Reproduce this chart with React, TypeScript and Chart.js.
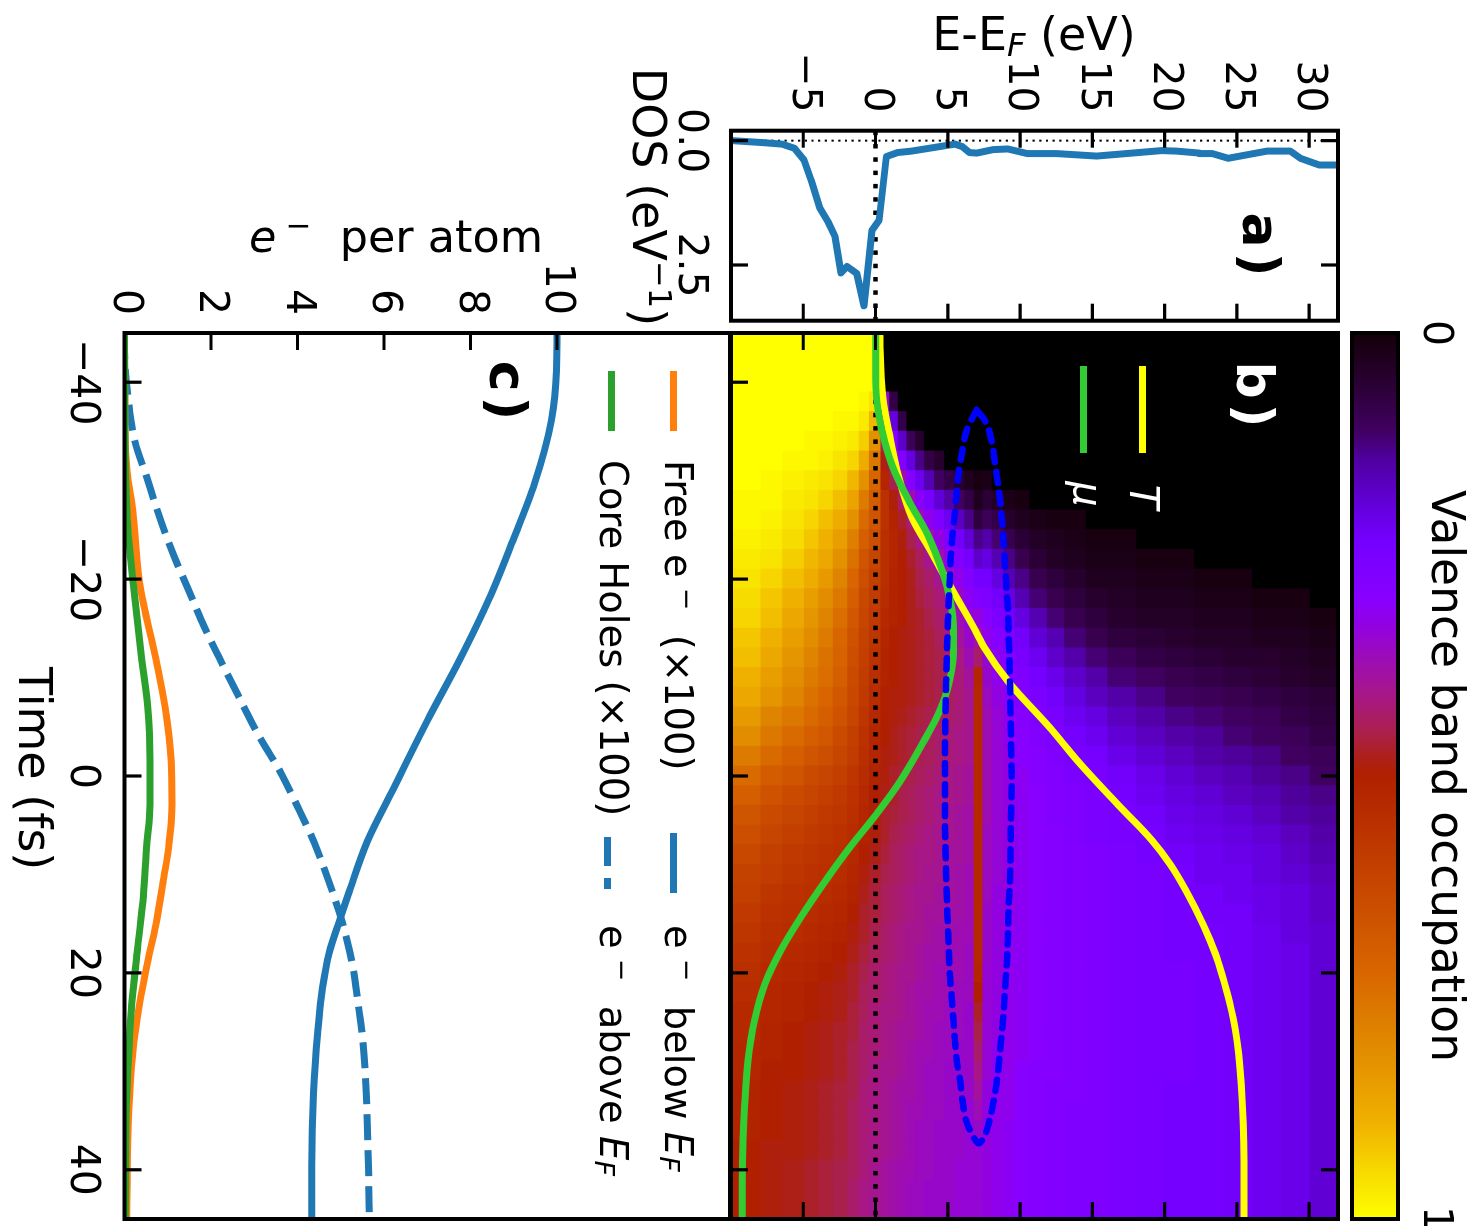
import React, { useEffect, useRef } from "react";
import { Chart, registerables } from "chart.js";

Chart.register(...registerables);
Chart.defaults.font.family = "'DejaVu Sans'";
Chart.defaults.color = "#000";

const FONT = "'DejaVu Sans'";
const TICK_SIZE = 41;

// ---- data ----
const energyTicks = [-5, 0, 5, 10, 15, 20, 25, 30];
const timeTicks = [-40, -20, 0, 20, 40];
const dosTicks = [0, 2.5];
const perAtomTicks = [0, 2, 4, 6, 8, 10];

const dosEnergy = [-9.93, -7.78, -6.47, -5.6, -4.95, -4.46, -3.85, -3.29, -2.8, -2.39, -1.97, -1.3, -0.8, -0.24, 0.25, 0.75, 1.52, 2.51, 5.5, 6.0, 6.5, 7.0, 8.15, 9.15, 10.5, 12.5, 15.3, 19.8, 20.8, 22.4, 23.3, 24.4, 27.1, 28.7, 29.4, 30.7, 32];
const dosValue = [0, 0.04, 0.07, 0.155, 0.39, 0.79, 1.36, 1.63, 1.93, 2.66, 2.53, 2.67, 3.32, 1.8, 1.6, 0.32, 0.24, 0.21, 0.07, 0.12, 0.24, 0.25, 0.18, 0.167, 0.26, 0.26, 0.31, 0.2, 0.21, 0.25, 0.26, 0.355, 0.21, 0.21, 0.355, 0.49, 0.49];

const tempTime = [-45, -43.6, -38.5, -34.4, -30.4, -26.3, -22.9, -19.2, -14.8, -13.1, -9.55, -4.85, -1.5, 2.64, 6.5, 9, 11.7, 15.2, 18, 20.3, 23, 25.8, 31.3, 39.2, 45];
const tempValue = [0.3, 0.31, 0.5, 1.0, 1.6, 2.5, 3.8, 5.2, 6.9, 7.5, 9.2, 12.1, 14.0, 16.6, 19.1, 20.4, 21.5, 22.7, 23.5, 24, 24.5, 24.9, 25.3, 25.5, 25.5];

const muTime = [-45, -40.2, -36.9, -33.8, -30.8, -27.7, -24.7, -21.9, -19.2, -16.5, -14.8, -12.5, -8.7, -6, -3.3, -1, 1, 4, 7.2, 10.3, 14.3, 17.7, 21.1, 24.8, 28.9, 33.6, 38.3, 45];
const muValue = [0.01, 0.01, 0.2, 0.66, 1.35, 2.4, 3.55, 4.35, 4.95, 5.33, 5.4, 5.4, 4.95, 4.25, 3.25, 2.35, 1.5, 0, -1.75, -3.3, -5.15, -6.55, -7.65, -8.37, -8.83, -9.06, -9.18, -9.23];

const loopTime = [-37.2, -35.1, -32.9, -30.9, -28.7, -26.6, -24.5, -22.3, -20.2, -18.2, -16.0, -13.8, -9.4, -3.1, 1.1, 5.3, 9.8, 14.0, 16.0, 20.3, 22.5, 24.6, 28.9, 30.9, 33.1, 35.2, 37.3, 36.5, 34.4, 32.2, 30.2, 28.0, 25.9, 23.8, 21.7, 19.5, 17.4, 15.3, 13.1, 10.9, 4.5, 0.4, -4.0, -8.2, -12.5, -14.6, -16.5, -18.9, -21.1, -23.3, -25.3, -27.5, -29.5, -31.8, -33.8, -35.8, -37.2];
const loopEnergy = [7.0, 6.3, 5.99, 5.76, 5.6, 5.48, 5.33, 5.21, 5.15, 5.08, 5.02, 4.97, 4.88, 4.81, 4.81, 4.81, 4.88, 4.97, 5.03, 5.15, 5.27, 5.38, 5.62, 5.85, 6.03, 6.31, 7.1, 7.57, 7.98, 8.27, 8.46, 8.61, 8.75, 8.87, 8.96, 9.07, 9.14, 9.18, 9.21, 9.3, 9.37, 9.42, 9.37, 9.32, 9.25, 9.21, 9.18, 9.07, 8.97, 8.88, 8.79, 8.65, 8.49, 8.26, 8.07, 7.68, 7.0];

const belowTime = [-45, -41.2, -36.1, -29.7, -23.6, -17.9, -11.8, -5.6, 1.8, 6.6, 11.7, 14.7, 18, 21.5, 26.0, 32.2, 39.6, 45];
const belowValue = [10.0, 9.99, 9.87, 9.48, 8.95, 8.42, 7.75, 7.0, 6.16, 5.62, 5.2, 4.97, 4.73, 4.58, 4.47, 4.37, 4.33, 4.33];

const aboveTime = [-45, -42, -38.5, -34, -30.4, -26.7, -22.6, -18.9, -15.1, -12.1, -7.9, -4.2, -0.6, 3.1, 6.7, 10.4, 14.8, 19.4, 23.1, 26.8, 32.2, 39.6, 45];
const aboveValue = [0, 0.01, 0.08, 0.24, 0.51, 0.78, 1.12, 1.48, 1.85, 2.18, 2.66, 3.09, 3.58, 4.0, 4.38, 4.7, 5.03, 5.28, 5.4, 5.51, 5.59, 5.64, 5.66];

const freeTime = [-45, -35, -31, -27, -19.6, -11.8, -7, -1.5, 2.9, 7.3, 10.3, 15, 19.4, 23.1, 28.2, 34, 45];
const freeValue = [0, 0.01, 0.06, 0.19, 0.35, 0.73, 0.94, 1.08, 1.1, 1.02, 0.91, 0.73, 0.51, 0.35, 0.19, 0.1, 0.05];

const coreTime = [-45, -30, -25, -20, -11.8, -7, -1.5, 2.9, 7.3, 12.1, 17.6, 23.1, 28.2, 34, 45];
const coreValue = [0, 0.03, 0.08, 0.19, 0.4, 0.54, 0.59, 0.59, 0.51, 0.44, 0.3, 0.17, 0.1, 0.04, 0.02];

const heatTimes = [-44, -42, -40, -38, -36, -34, -32, -30, -28, -26, -24, -22, -20, -18, -16, -14, -12, -10, -8, -6, -4, -2, 0, 2, 4, 6, 8, 10, 12, 14, 16, 18, 20, 22, 24, 26, 28, 30, 32, 34, 36, 38, 40, 42, 44];
const energyEdges = [-10, -8, -6.5, -5, -4, -3, -2, -1.2, -0.5, 0.3, 0.9, 1.5, 2.1, 2.7, 3.3, 4, 4.7, 5.4, 6.1, 6.75, 7.35, 8, 8.8, 9.6, 10.6, 11.8, 13, 14.5, 16, 18, 20, 22, 24, 26, 28, 30, 32];
// occupation x 100, one row per energy band, one entry per time column
const occupationRows = [
  [100,100,100,100,100,100,100,100,99,99,98,97,96,95,94,92,91,89,87,84,81,77,73,70,67,65,63,61,60,58,57,56,55,54,53,53,52,52,51,51,51,50,50,50,50],
  [100,100,100,100,100,100,100,99,99,98,97,96,94,92,91,89,87,85,83,79,76,73,69,66,64,62,60,59,57,56,55,54,53,52,52,51,51,50,50,50,50,49,49,49,49],
  [100,100,100,100,100,100,99,98,97,96,95,93,91,89,87,85,83,81,79,76,73,70,67,64,62,60,58,57,56,55,54,53,52,51,51,50,50,50,49,49,49,49,48,48,48],
  [100,100,100,100,100,99,99,97,96,94,92,90,88,85,83,81,79,77,75,73,70,67,64,62,60,58,57,56,55,54,53,52,51,50,50,49,49,49,48,48,48,48,47,47,47],
  [100,100,100,100,100,99,98,96,94,91,89,87,84,81,79,77,75,74,72,70,68,65,62,60,58,57,56,55,54,53,52,51,50,49,49,48,48,48,47,47,47,47,46,46,46],
  [100,100,100,100,99,98,96,94,91,88,85,82,79,76,74,72,71,70,68,66,64,62,60,58,57,56,55,54,53,52,51,50,49,48,48,47,47,47,46,46,46,46,45,45,45],
  [100,100,100,100,99,97,94,90,86,82,78,75,72,70,68,66,65,64,63,62,60,59,57,56,55,54,53,52,51,50,49,48,47,47,46,46,45,45,45,44,44,44,44,43,43],
  [100,100,100,99,97,93,88,82,77,73,70,67,65,63,62,61,60,59,58,57,56,55,54,53,52,51,50,49,48,47,47,46,45,44,44,43,43,43,42,42,42,42,42,41,41],
  [100,100,100,96,90,82,76,72,69,67,65,62,60,59,58,57,56,55,54,53,52,52,51,50,49,49,48,47,46,46,45,44,43,43,42,42,42,41,41,41,41,41,40,40,40],
  [0,0,0,35,40,44,48,52,56,56,55,55,55,54,53,52,51,51,50,50,50,49,49,48,47,47,46,45,44,44,43,43,42,42,41,41,41,40,40,40,40,40,39,39,39],
  [0,0,0,8,20,30,38,45,49,51,52,52,51,51,51,50,50,50,49,49,48,48,47,47,46,45,44,44,43,43,42,42,41,41,41,40,40,40,39,39,39,39,38,38,38],
  [0,0,0,0,8,18,28,37,43,47,49,50,50,50,50,49,49,49,49,48,47,47,46,45,45,44,43,43,42,42,41,41,40,40,40,39,39,39,38,38,38,38,37,37,37],
  [0,0,0,0,0,10,20,29,37,42,45,47,48,48,48,48,48,48,48,47,46,46,45,44,44,43,42,42,41,41,40,40,40,39,39,39,38,38,38,37,37,37,37,36,36],
  [0,0,0,0,0,5,13,22,31,37,41,44,45,46,47,47,47,47,47,46,45,45,44,43,43,42,41,41,40,40,40,39,39,38,38,38,37,37,37,37,36,36,36,36,36],
  [0,0,0,0,0,0,8,16,25,32,37,40,43,44,45,46,46,46,46,45,44,44,43,42,42,41,41,40,40,39,39,38,38,38,37,37,37,36,36,36,36,36,36,35,35],
  [0,0,0,0,0,0,5,11,19,27,33,37,40,42,43,44,45,45,45,44,43,43,42,41,41,40,40,40,39,39,38,38,37,37,37,36,36,36,36,36,35,35,35,35,35],
  [0,0,0,0,0,0,0,8,15,22,28,33,37,39,41,42,43,44,44,43,42,42,41,41,40,40,39,39,39,38,38,37,37,37,36,36,36,35,35,35,35,35,35,35,35],
  [0,0,0,0,0,0,0,5,11,17,23,28,32,35,37,39,41,42,42,42,41,41,40,40,39,39,39,38,38,38,37,37,37,36,36,36,35,35,35,35,35,35,34,34,34],
  [0,0,0,0,0,0,0,3,8,13,19,24,28,31,33,35,37,39,40,40,40,40,39,39,38,38,38,37,37,37,37,36,36,36,35,35,35,35,35,34,34,34,34,34,34],
  [0,0,0,0,0,0,0,1,3,7,13,18,24,28,33,38,43,52,53,53,53,53,53,53,53,53,53,53,53,53,53,53,52,50,47,45,43,41,39,37,35,34,34,34,34],
  [0,0,0,0,0,0,0,2,6,10,15,20,24,27,30,32,34,35,36,37,37,37,37,37,37,36,36,36,36,35,35,35,34,34,34,34,34,34,33,33,33,33,33,33,33],
  [0,0,0,0,0,0,0,0,4,8,12,16,20,23,26,29,31,32,33,34,34,34,34,34,34,34,34,34,33,33,33,33,33,33,33,33,32,32,32,32,32,32,32,32,32],
  [0,0,0,0,0,0,0,0,2,5,9,13,16,20,23,26,28,30,31,32,32,33,33,33,33,33,33,33,33,33,32,32,32,32,32,32,32,32,32,32,31,31,31,31,31],
  [0,0,0,0,0,0,0,0,1,3,6,9,13,16,20,23,25,27,28,29,30,30,31,31,31,31,31,31,31,31,31,31,31,31,31,31,31,30,30,30,30,30,30,30,30],
  [0,0,0,0,0,0,0,0,0,2,4,6,9,12,16,19,22,24,26,27,28,29,29,30,30,30,30,30,30,30,30,30,30,30,30,30,30,29,29,29,29,29,29,29,29],
  [0,0,0,0,0,0,0,0,0,1,3,4,7,9,12,16,18,21,23,25,26,27,28,28,28,29,29,29,29,29,29,29,29,29,29,29,29,29,28,28,28,28,28,28,28],
  [0,0,0,0,0,0,0,0,0,1,2,3,5,7,9,12,15,18,20,22,24,25,26,27,27,27,28,28,28,28,28,28,28,28,28,28,28,28,28,27,27,27,27,27,27],
  [0,0,0,0,0,0,0,0,0,0,1,2,3,5,7,9,12,15,17,20,22,24,25,26,26,26,27,27,27,27,27,27,27,27,27,27,27,27,27,27,27,27,27,27,27],
  [0,0,0,0,0,0,0,0,0,0,1,2,3,4,5,7,10,12,15,17,19,21,23,24,25,25,26,26,26,26,26,26,26,26,26,26,26,26,26,26,26,26,26,26,26],
  [0,0,0,0,0,0,0,0,0,0,0,1,2,3,4,6,8,11,13,15,17,19,21,22,23,24,24,25,25,25,25,25,25,25,25,25,25,25,25,25,25,25,25,25,25],
  [0,0,0,0,0,0,0,0,0,0,0,1,2,3,4,5,7,9,11,13,15,17,19,20,21,22,23,24,24,24,24,24,25,25,25,25,25,25,24,24,24,24,24,24,24],
  [0,0,0,0,0,0,0,0,0,0,0,0,1,2,3,4,6,8,10,12,14,15,17,19,20,21,22,22,23,23,24,24,24,24,24,24,24,24,24,24,24,24,24,24,24],
  [0,0,0,0,0,0,0,0,0,0,0,0,1,2,3,4,5,7,9,11,12,14,16,17,19,20,21,22,22,23,23,23,23,23,23,23,23,23,23,23,23,23,23,23,23],
  [0,0,0,0,0,0,0,0,0,0,0,0,0,1,2,3,5,6,8,10,11,13,14,16,17,19,20,20,21,21,22,22,22,22,22,22,22,22,22,22,22,22,22,22,22],
  [0,0,0,0,0,0,0,0,0,0,0,0,0,1,2,3,4,5,7,8,10,11,13,14,15,17,18,19,20,20,20,21,21,21,21,21,21,21,21,21,21,21,21,21,21],
  [0,0,0,0,0,0,0,0,0,0,0,0,0,0,1,2,3,4,6,7,8,10,11,13,14,15,16,17,18,18,19,19,19,19,19,19,19,19,19,19,19,19,19,19,19],
];

const colorStopValues = [0, 0.053, 0.11, 0.143, 0.2, 0.234, 0.3, 0.324, 0.38, 0.414, 0.448, 0.48, 0.5, 0.63, 0.717, 0.8, 0.89, 0.955, 1];
const colorStopColors = ["#140008", "#280030", "#400060", "#5000a0", "#6500e0", "#7400ff", "#8800ff", "#9000e8", "#a010a8", "#a81880", "#aa2050", "#ad2018", "#b02000", "#c84800", "#d86400", "#e08800", "#f0b000", "#f8e000", "#ffff00"];

// ---- helpers ----
const hexRgb = (h: string) => [1, 3, 5].map((i) => parseInt(h.slice(i, i + 2), 16));
function occupationColor(v: number) {
  if (v <= 0) return "#000000";
  for (let i = 1; i < colorStopValues.length; i++) {
    if (v <= colorStopValues[i]) {
      const f = (v - colorStopValues[i - 1]) / (colorStopValues[i] - colorStopValues[i - 1]);
      const a = hexRgb(colorStopColors[i - 1]);
      const b = hexRgb(colorStopColors[i]);
      return `rgb(${a.map((c, k) => Math.round(c + (b[k] - c) * f)).join(",")})`;
    }
  }
  return colorStopColors[colorStopColors.length - 1];
}
const pairs = (xs: number[], ys: number[]) => xs.map((x, i) => ({ x, y: ys[i] }));
const minusLabel = (v: any) => String(v).replace("-", "\u2212");
const fixedTicks = (arr: number[]) => (s: any) => {
  s.ticks = arr.map((value) => ({ value }));
};
const tickFont = { size: TICK_SIZE, family: FONT };
const fitBox = (size: { width?: number; height?: number }) => (s: any) => {
  if (size.width !== undefined) s.width = size.width;
  if (size.height !== undefined) s.height = size.height;
  s.paddingTop = 0;
  s.paddingBottom = 0;
  s.paddingLeft = 0;
  s.paddingRight = 0;
};

function framePlugin(cfg: any) {
  return {
    id: "frameTicks",
    afterDatasetsDraw(chart: any) {
      const { ctx, chartArea: a, scales } = chart;
      ctx.save();
      ctx.strokeStyle = "#000";
      ctx.lineWidth = 3.2;
      ctx.beginPath();
      const len = 17;
      const xs = scales[cfg.xId];
      const ys = scales[cfg.yId];
      (cfg.xTicks || []).forEach((v: number) => {
        const p = xs.getPixelForValue(v);
        ctx.moveTo(p, a.bottom);
        ctx.lineTo(p, a.bottom - len);
        if (cfg.both) {
          ctx.moveTo(p, a.top);
          ctx.lineTo(p, a.top + len);
        }
      });
      (cfg.yTicks || []).forEach((v: number) => {
        const p = ys.getPixelForValue(v);
        ctx.moveTo(a.left, p);
        ctx.lineTo(a.left + len, p);
        if (cfg.both) {
          ctx.moveTo(a.right, p);
          ctx.lineTo(a.right - len, p);
        }
      });
      ctx.stroke();
      ctx.lineWidth = 4;
      ctx.strokeRect(a.left, a.top, a.right - a.left, a.bottom - a.top);
      ctx.restore();
    },
  };
}

const basePlugins = { legend: { display: false }, tooltip: { enabled: false } };
const flatGrid = { display: false, drawTicks: false };

function makeColorbar(canvas: HTMLCanvasElement) {
  return new Chart(canvas, {
    type: "bar",
    data: {
      labels: ["occupation"],
      datasets: [
        {
          data: [[0, 1]] as any,
          barPercentage: 1,
          categoryPercentage: 1,
          backgroundColor: (c: any) => {
            const area = c.chart.chartArea;
            if (!area) return "#000";
            const xs = c.chart.scales.x;
            const g = c.chart.ctx.createLinearGradient(xs.getPixelForValue(0), 0, xs.getPixelForValue(1), 0);
            colorStopValues.forEach((v, i) => g.addColorStop(v, colorStopColors[i]));
            return g;
          },
        },
      ],
    },
    options: {
      indexAxis: "y",
      responsive: false,
      animation: false,
      layout: { padding: { left: 33, right: 41, top: 0, bottom: 5 } },
      plugins: basePlugins,
      scales: {
        x: {
          type: "linear",
          position: "top",
          min: 0,
          max: 1,
          offset: false,
          grid: flatGrid,
          border: { display: false },
          afterBuildTicks: fixedTicks([0, 1]),
          afterFit: fitBox({ height: 74 }),
          ticks: { font: tickFont, padding: 12, maxRotation: 0, autoSkip: false },
          title: { display: true, text: "Valence band occupation", font: { size: 45.5, family: FONT }, padding: { top: 1, bottom: 0 } },
        },
        y: { display: false },
      },
    } as any,
    plugins: [framePlugin({ xId: "x", yId: "y" })],
  });
}

function makeDos(canvas: HTMLCanvasElement) {
  return new Chart(canvas, {
    type: "scatter",
    data: {
      datasets: [
        { data: pairs(dosValue, dosEnergy), showLine: true, borderColor: "#1f77b4", borderWidth: 7, pointRadius: 0, tension: 0, borderJoinStyle: "round" },
        { data: [{ x: -0.2, y: 0 }, { x: 3.62, y: 0 }], showLine: true, borderColor: "#000", borderWidth: 4.5, borderDash: [4.5, 8.8], pointRadius: 0 },
        { data: [{ x: 0, y: -10 }, { x: 0, y: 32 }], showLine: true, borderColor: "#000", borderWidth: 2, borderDash: [2.2, 4.5], pointRadius: 0 },
      ],
    } as any,
    options: {
      responsive: false,
      animation: false,
      layout: { padding: { top: 9, right: 9.3, left: 0, bottom: 0 } },
      plugins: basePlugins,
      scales: {
        x: {
          type: "linear",
          min: -0.2,
          max: 3.62,
          grid: flatGrid,
          border: { display: false },
          afterBuildTicks: fixedTicks(dosTicks),
          afterFit: fitBox({ height: 84 }),
          ticks: { font: tickFont, padding: 17, maxRotation: 0, autoSkip: false, callback: (v: any) => Number(v).toFixed(1) },
        },
        y: {
          type: "linear",
          min: -10,
          max: 32,
          grid: flatGrid,
          border: { display: false },
          afterBuildTicks: fixedTicks(energyTicks),
          afterFit: fitBox({ width: 130.7 }),
          ticks: { font: tickFont, padding: 18, autoSkip: false, callback: minusLabel },
        },
      },
    } as any,
    plugins: [framePlugin({ xId: "x", yId: "y", xTicks: dosTicks, yTicks: energyTicks, both: true })],
  });
}

function makeHeat(canvas: HTMLCanvasElement) {
  const line = (xs: number[], ys: number[], color: string, extra: any = {}) => ({
    type: "line",
    xAxisID: "xl",
    yAxisID: "y",
    data: pairs(xs, ys),
    borderColor: color,
    borderWidth: 7,
    pointRadius: 0,
    cubicInterpolationMode: "monotone",
    ...extra,
  });
  const bars = occupationRows.map((row, j) => ({
    type: "bar",
    xAxisID: "x",
    yAxisID: "y",
    data: row.map(() => [energyEdges[j], energyEdges[j + 1]]),
    backgroundColor: row.map((v) => occupationColor(v / 100)),
    barPercentage: 1,
    categoryPercentage: 1,
    grouped: false,
    inflateAmount: 0.6,
    borderWidth: 0,
  }));
  return new Chart(canvas, {
    type: "bar",
    data: {
      labels: heatTimes,
      datasets: [
        line(loopTime, loopEnergy, "#0000ff", { borderWidth: 6.5, borderDash: [11, 10], borderCapStyle: "round", cubicInterpolationMode: "default", tension: 0.3 }),
        line(muTime, muValue, "#32cd32"),
        line(tempTime, tempValue, "#ffff00"),
        line([-45, 45], [0, 0], "#000000", { borderWidth: 4.5, borderDash: [4.5, 8.8] }),
        ...bars,
      ],
    } as any,
    options: {
      responsive: false,
      animation: false,
      layout: { padding: 8 },
      plugins: basePlugins,
      scales: {
        x: { type: "category", display: false },
        xl: { type: "linear", display: false, min: -45, max: 45, offset: false, bounds: "data" },
        y: { type: "linear", display: false, min: -10, max: 32 },
      },
    } as any,
    plugins: [framePlugin({ xId: "xl", yId: "y", xTicks: timeTicks, yTicks: energyTicks, both: true })],
  });
}

function makeCounts(canvas: HTMLCanvasElement) {
  const line = (xs: number[], ys: number[], color: string, extra: any = {}) => ({
    data: pairs(xs, ys),
    showLine: true,
    borderColor: color,
    borderWidth: 7,
    pointRadius: 0,
    cubicInterpolationMode: "monotone",
    ...extra,
  });
  return new Chart(canvas, {
    type: "scatter",
    data: {
      datasets: [
        line(coreTime, coreValue, "#2ca02c"),
        line(freeTime, freeValue, "#ff7f0e"),
        line(aboveTime, aboveValue, "#1f77b4", { borderDash: [26, 10] }),
        line(belowTime, belowValue, "#1f77b4"),
      ],
    } as any,
    options: {
      responsive: false,
      animation: false,
      layout: { padding: { top: 7, right: 11, left: 0, bottom: 0 } },
      plugins: basePlugins,
      scales: {
        x: {
          type: "linear",
          min: -45,
          max: 45,
          grid: flatGrid,
          border: { display: false },
          afterBuildTicks: fixedTicks(timeTicks),
          afterFit: fitBox({ height: 124.5 }),
          ticks: { font: tickFont, padding: 18, maxRotation: 0, autoSkip: false, callback: minusLabel },
          title: { display: true, text: "Time (fs)\u00a0", font: { size: 46, family: FONT }, padding: { top: 0, bottom: 3 } },
        },
        y: {
          type: "linear",
          min: 0,
          max: 14,
          grid: flatGrid,
          border: { display: false },
          afterBuildTicks: fixedTicks(perAtomTicks),
          afterFit: fitBox({ width: 133 }),
          ticks: { font: tickFont, padding: 18, autoSkip: false },
        },
      },
    } as any,
    plugins: [framePlugin({ xId: "x", yId: "y", xTicks: timeTicks, yTicks: perAtomTicks })],
  });
}

// ---- small html text pieces ----
const Sup = ({ children, gap = 0 }: any) => <span style={{ fontSize: "70%", verticalAlign: "0.5em", lineHeight: 0, marginLeft: gap }}>{children}</span>;
const Sub = ({ children }: any) => <span style={{ fontSize: "70%", verticalAlign: "-0.2em", lineHeight: 0 }}>{children}</span>;
const Txt = ({ x, y, size, color = "#000", center = true, spacing, bold, children }: any) => (
  <div
    style={{
      position: "absolute",
      left: x,
      top: y,
      transform: center ? "translate(-50%,-50%)" : "translateY(-50%)",
      fontFamily: FONT,
      fontSize: size,
      color,
      lineHeight: 1,
      whiteSpace: "pre",
      letterSpacing: spacing,
      fontWeight: bold ? 700 : 400,
    }}
  >
    {children}
  </div>
);
const Swatch = ({ x0, x1, y, color }: any) => (
  <div style={{ position: "absolute", left: x0, width: x1 - x0, top: y - 3.5, height: 7, background: color }} />
);

export default function App() {
  const cb = useRef<HTMLCanvasElement>(null);
  const dos = useRef<HTMLCanvasElement>(null);
  const heat = useRef<HTMLCanvasElement>(null);
  const counts = useRef<HTMLCanvasElement>(null);

  useEffect(() => {
    const charts = [makeCounts(counts.current!), makeHeat(heat.current!), makeDos(dos.current!), makeColorbar(cb.current!)];
    return () => charts.forEach((c) => c.destroy());
  }, []);

  const abs = (left: number, top: number): any => ({ position: "absolute", left, top });
  // the figure is laid out sideways and turned a quarter turn clockwise: page x = 1472 - oy, page y = ox
  return (
    <div style={{ position: "fixed", left: 0, top: 0, width: 1472, height: 1226, overflow: "hidden", background: "#fff" }}>
      <div style={{ position: "absolute", left: 1472, top: 0, width: 1226, height: 1472, transformOrigin: "0 0", transform: "rotate(90deg)" }}>
        <canvas ref={counts} width={1030} height={737} style={abs(200, 735)} />
        <canvas ref={heat} width={902} height={623} style={abs(325, 126)} />
        <canvas ref={dos} width={330} height={700} style={abs(0, 125)} />
        <canvas ref={cb} width={960} height={125} style={abs(300, 0)} />

        <Txt x={197} y={823} size={46}>
          DOS (eV<Sup>−1</Sup>)
        </Txt>
        <Txt x={247} y={211} size={52} spacing={5} bold>a)</Txt>
        <Txt x={397} y={217} size={52} spacing={5} bold color="#fff">b)</Txt>
        <Txt x={393} y={964} size={52} spacing={5} bold>c)</Txt>

        <Swatch x0={366} x1={453} y={329} color="#ffff00" />
        <Swatch x0={366} x1={453} y={388} color="#32cd32" />
        <Txt x={497} y={328} size={40} color="#fff"><i>T</i></Txt>
        <Txt x={494} y={384} size={40} color="#fff"><i>μ</i></Txt>

        <Swatch x0={371} x1={431} y={798} color="#ff7f0e" />
        <Swatch x0={371} x1={431} y={860} color="#2ca02c" />
        <Swatch x0={833} x1={893} y={798} color="#1f77b4" />
        <Swatch x0={837} x1={866} y={864} color="#1f77b4" />
        <Swatch x0={878} x1={889} y={864} color="#1f77b4" />
        <Txt x={460} y={794} size={38.5} center={false}>Free e<Sup gap={10}>−</Sup>  (×100)</Txt>
        <Txt x={460} y={859} size={38.5} center={false}>Core Holes (×100)</Txt>
        <Txt x={925} y={794} size={38.5} center={false}>e<Sup gap={10}>−</Sup>  below <i>E</i><Sub><i>F</i></Sub></Txt>
        <Txt x={925} y={859} size={38.5} center={false}>e<Sup gap={10}>−</Sup>  above <i>E</i><Sub><i>F</i></Sub></Txt>
      </div>

      <Txt x={1034} y={34} size={46}>E-E<Sub><i>F</i></Sub> (eV)</Txt>
      <Txt x={396} y={237} size={44.5}><i>e</i><Sup gap={9}>−</Sup>  per atom</Txt>
    </div>
  );
}
